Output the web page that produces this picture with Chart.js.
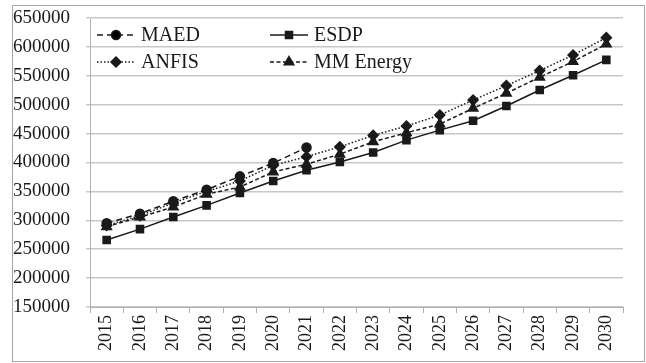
<!DOCTYPE html>
<html>
<head>
<meta charset="utf-8">
<script src="https://cdn.jsdelivr.net/npm/chart.js@4/dist/chart.umd.min.js"></script>
<style>
  html, body { margin: 0; padding: 0; background: #fff; }
  #wrap { width: 646px; height: 363px; position: relative; }
</style>
</head>
<body>
<div id="wrap"><canvas id="myChart"></canvas></div>
<script>
var years = ['2015','2016','2017','2018','2019','2020','2021','2022','2023','2024','2025','2026','2027','2028','2029','2030'];

var maed   = [295000, 311500, 333000, 353000, 376000, 399000, 426000, null, null, null, null, null, null, null, null, null];
var esdp   = [266000, 284700, 305600, 325800, 347200, 368000, 386600, 401000, 417400, 438700, 456000, 472200, 497700, 525500, 551000, 577600];
var anfis  = [291000, 308000, 330000, 350000, 368000, 395000, 410000, 427000, 447000, 463000, 482000, 508000, 533000, 559000, 586000, 616000];
var mmEnergy = [289000, 305500, 323000, 345000, 357600, 383700, 397000, 414400, 435800, 451400, 466500, 493700, 519800, 547600, 574600, 605000];

var yTicks = [150000, 200000, 250000, 300000, 350000, 400000, 450000, 500000, 550000, 600000, 650000];

var ink = '#1a1a1a';
var serif = "'Liberation Serif', 'Times New Roman', serif";

// frame round the whole picture
var framePlugin = {
  id: 'frame',
  beforeDraw: function (chart) {
    var ctx = chart.ctx;
    ctx.save();
    ctx.fillStyle = '#fff';
    ctx.fillRect(0, 0, chart.width, chart.height);
    ctx.strokeStyle = '#a6a6a6';
    ctx.lineWidth = 1;
    ctx.strokeRect(12.5, 5.5, 632, 356);
    ctx.restore();
  }
};

// legend inside the plot, two columns
var legendPlugin = {
  id: 'innerLegend',
  afterDraw: function (chart) {
    var ctx = chart.ctx;
    var spots = [[97, 35], [270, 35], [97, 62], [270, 62]];
    ctx.save();
    chart.data.datasets.forEach(function (ds, i) {
      var x = spots[i][0], y = spots[i][1];
      ctx.strokeStyle = ds.borderColor;
      ctx.lineWidth = ds.borderWidth;
      ctx.setLineDash(ds.borderDash || []);
      ctx.beginPath();
      ctx.moveTo(x, y);
      ctx.lineTo(x + 38, y);
      ctx.stroke();
      ctx.setLineDash([]);
      Chart.helpers.drawPoint(ctx, {
        pointStyle: ds.pointStyle,
        radius: ds.pointRadius,
        rotation: 0,
        borderWidth: 1
      }, x + 19, y);
      ctx.fillStyle = ink;
      ctx.font = '20px ' + serif;
      ctx.textBaseline = 'middle';
      ctx.textAlign = 'left';
      ctx.fillText(ds.label, x + 44, y + 1);
    });
    ctx.restore();
  }
};

function series(label, data, dash, style, r) {
  return {
    label: label,
    data: data,
    borderColor: ink,
    backgroundColor: ink,
    pointBackgroundColor: ink,
    pointBorderColor: ink,
    borderWidth: 1.5,
    borderDash: dash,
    pointStyle: style,
    pointRadius: r,
    pointHoverRadius: r,
    fill: false,
    tension: 0,
    spanGaps: false
  };
}

var config = {
  type: 'line',
  data: {
    labels: years,
    datasets: [
      series('MAED', maed, [6, 4], 'circle', 4.5),
      series('ESDP', esdp, [], 'rect', 5),
      series('ANFIS', anfis, [1.5, 2], 'rectRot', 5),
      series('MM Energy', mmEnergy, [4, 2.5], 'triangle', 5.5)
    ]
  },
  options: {
    responsive: true,
    maintainAspectRatio: false,
    animation: false,
    layout: { padding: { left: 13, right: 23, top: 18, bottom: 0 } },
    plugins: {
      legend: { display: false },
      tooltip: { enabled: false }
    },
    scales: {
      x: {
        offset: true,
        grid: {
          display: true,
          offset: true,
          drawOnChartArea: false,
          drawTicks: true,
          tickLength: 6,
          color: '#b0b0b0'
        },
        border: { color: '#b0b0b0' },
        ticks: {
          color: ink,
          font: { family: serif, size: 18 },
          minRotation: 90,
          maxRotation: 90,
          padding: 2,
          autoSkip: false
        },
        afterFit: function (scale) { scale.height = 56; }
      },
      y: {
        min: 150000,
        max: 650000,
        afterBuildTicks: function (scale) {
          scale.ticks = yTicks.map(function (v) { return { value: v }; });
        },
        grid: {
          color: '#c8c8c8',
          lineWidth: 1.5,
          drawTicks: true,
          tickLength: 4
        },
        border: { color: '#b0b0b0' },
        ticks: {
          color: ink,
          font: { family: serif, size: 19 },
          crossAlign: 'far',
          padding: 2,
          callback: function (v) { return String(v); }
        },
        afterFit: function (scale) { scale.width = 77; }
      }
    }
  },
  plugins: [framePlugin, legendPlugin]
};

var myChart = new Chart(document.getElementById('myChart'), config);
</script>
</body>
</html>
